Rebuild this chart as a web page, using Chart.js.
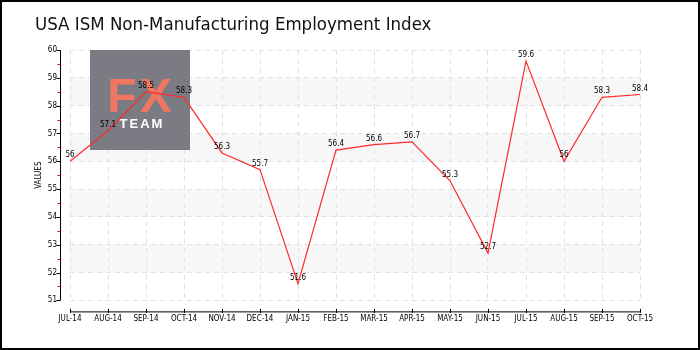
<!DOCTYPE html>
<html><head><meta charset="utf-8">
<script src="https://cdn.jsdelivr.net/npm/chart.js@4"></script>
<style>
html,body{margin:0;padding:0;background:#fff;}
#wrap{width:700px;height:350px;position:relative;}
canvas{display:block;}
</style></head>
<body><div id="wrap"><canvas id="c" width="700" height="350"></canvas></div>
<script>
const categories = ["JUL-14","AUG-14","SEP-14","OCT-14","NOV-14","DEC-14","JAN-15","FEB-15","MAR-15","APR-15","MAY-15","JUN-15","JUL-15","AUG-15","SEP-15","OCT-15"];
const values = [56, 57.1, 58.5, 58.3, 56.3, 55.7, 51.6, 56.4, 56.6, 56.7, 55.3, 52.7, 59.6, 56, 58.3, 58.4];
const yTicks = [51, 52, 53, 54, 55, 56, 57, 58, 59, 60];
const bandRanges = [[52,53],[54,55],[56,57],[58,59]];
const titleText = "USA ISM Non-Manufacturing Employment Index";
const axisTitle = "VALUES";
const tickFont = {family: "'DejaVu Sans Condensed','DejaVu Sans'", size: 8};

const decor = {
  id: 'decor',
  beforeDraw(chart) {
    const ctx = chart.ctx, ca = chart.chartArea, y = chart.scales.y;
    ctx.save();
    ctx.fillStyle = '#fff';
    ctx.fillRect(0,0,chart.width,chart.height);
    ctx.fillStyle = '#f7f7f7';
    bandRanges.forEach(([a,b]) => {
      const y1 = y.getPixelForValue(b), y2 = y.getPixelForValue(a);
      ctx.fillRect(ca.left, y1, ca.right - ca.left, y2 - y1);
    });
    ctx.restore();
  },
  beforeDatasetsDraw(chart) {
    const ctx = chart.ctx;
    ctx.save();
    ctx.fillStyle = '#7b7b83';
    ctx.fillRect(90, 50, 100, 100);
    ctx.fillStyle = '#ef7761';
    ctx.font = "bold 48px 'Liberation Sans','DejaVu Sans'";
    ctx.textAlign = 'center'; ctx.textBaseline = 'alphabetic';
    ctx.letterSpacing = '3px';
    ctx.fillText('FX', 141, 112);
    ctx.fillStyle = '#fff';
    ctx.font = "bold 13px 'Liberation Sans','DejaVu Sans'";
    ctx.letterSpacing = '2px';
    ctx.fillText('TEAM', 142, 128);
    ctx.restore();
  },
  afterDatasetsDraw(chart) {
    const ctx = chart.ctx, ca = chart.chartArea, x = chart.scales.x, y = chart.scales.y;
    ctx.save();
    const ax = ca.left - 9.5;
    ctx.strokeStyle = '#000'; ctx.lineWidth = 1;
    ctx.beginPath(); ctx.moveTo(ax, y.getPixelForValue(60)); ctx.lineTo(ax, y.getPixelForValue(51)); ctx.stroke();
    yTicks.forEach(v => {
      const py = Math.round(y.getPixelForValue(v)) + 0.5;
      ctx.beginPath(); ctx.moveTo(ax - 4, py); ctx.lineTo(ax, py); ctx.stroke();
    });
    ctx.strokeStyle = '#e00000';
    for (let v = 51.5; v < 60; v += 1) {
      const py = Math.round(y.getPixelForValue(v)) + 0.5;
      ctx.beginPath(); ctx.moveTo(ax - 3, py); ctx.lineTo(ax, py); ctx.stroke();
    }
    const ay = ca.bottom + 11.5;
    ctx.strokeStyle = '#000';
    ctx.beginPath(); ctx.moveTo(x.getPixelForValue(0), ay); ctx.lineTo(x.getPixelForValue(categories.length-1), ay); ctx.stroke();
    categories.forEach((c,i) => {
      const px = Math.round(x.getPixelForValue(i)) + 0.5;
      ctx.beginPath(); ctx.moveTo(px, ay - 3); ctx.lineTo(px, ay + 1); ctx.stroke();
    });
    // data labels
    const meta = chart.getDatasetMeta(0);
    ctx.fillStyle = '#000';
    ctx.font = "8px 'DejaVu Sans Condensed','DejaVu Sans'";
    ctx.textAlign = 'center';
    meta.data.forEach((pt, i) => {
      ctx.fillText(String(values[i]), pt.x, pt.y - 4);
    });
    // title
    ctx.fillStyle = '#111';
    ctx.font = "18.5px 'DejaVu Sans Condensed','DejaVu Sans'";
    ctx.textAlign = 'left';
    ctx.fillText(titleText, 35, 30);
    // border
    ctx.strokeStyle = '#000'; ctx.lineWidth = 2;
    ctx.strokeRect(1, 1, chart.width - 2, chart.height - 2);
    ctx.restore();
  }
};

new Chart(document.getElementById('c'), {
  type: 'line',
  data: { labels: categories, datasets: [{ data: values, borderColor: '#ff2a2a', borderWidth: 1.2, pointRadius: 0, tension: 0, fill: false }] },
  plugins: [decor],
  options: {
    responsive: false, animation: false,
    layout: { padding: { left: 34, right: 60, top: 50, bottom: 12 } },
    plugins: { legend: { display: false }, tooltip: { enabled: false } },
    scales: {
      x: {
        type: 'category', offset: false,
        grid: { color: '#e2e2e2', lineWidth: 1, drawTicks: false },
        border: { display: false, dash: [5,4] },
        ticks: { color: '#000', font: tickFont, padding: 14, maxRotation: 0, autoSkip: false }
      },
      y: {
        min: 51, max: 60,
        afterBuildTicks(s) { s.ticks = yTicks.map(v => ({value: v})); },
        grid: { color: '#e2e2e2', lineWidth: 1, drawTicks: false },
        border: { display: false, dash: [5,4] },
        ticks: { color: '#000', font: tickFont, padding: 13 },
        title: { display: true, text: axisTitle, color: '#000', font: {family: "'DejaVu Sans Condensed','DejaVu Sans'", size: 8}, padding: {top: 0, bottom: 4} },
        afterFit(s) { s.width = 36; }
      }
    }
  }
});
</script></body></html>
